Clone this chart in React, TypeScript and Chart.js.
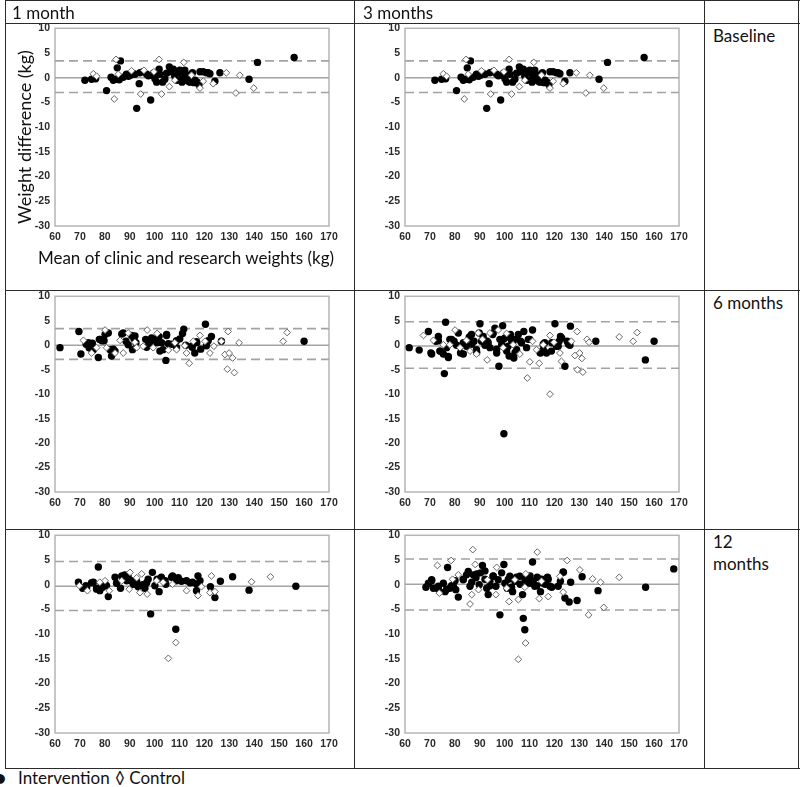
import React, { useEffect, useRef } from "react";
import { Chart, registerables } from "chart.js";

Chart.register(...registerables);

// ---- axes ----
const X_MIN = 60;
const X_MAX = 170;
const X_STEP = 10;
const Y_MIN = -30;
const Y_MAX = 10;
const Y_STEP = 5;

// ---- Baseline (same plot under "1 month" and "3 months") ----
const baseIntX = [72.0, 74.7, 76.3, 80.7, 82.5, 83.4, 84.5, 85.0, 86.3, 85.8, 87.4, 88.7, 89.5, 90.3, 91.2, 92.1, 92.8, 93.8, 94.1, 95.4, 96.8, 97.5, 98.4, 98.8, 99.5, 100.1, 100.8, 101.8, 102.1, 103.2, 104.1, 104.8, 105.9, 106.4, 107.5, 108.1, 109.0, 109.5, 110.1, 110.8, 111.0, 111.5, 112.1, 112.8, 113.5, 113.8, 114.4, 115.2, 115.8, 116.2, 117.1, 117.8, 118.2, 119.5, 120.8, 121.5, 122.2, 124.2, 126.2, 137.9, 141.3, 156.0];
const baseIntY = [-0.5, -0.3, -0.2, -2.6, 0.1, -0.5, -0.3, 2.0, 3.4, -0.4, 0.1, 0.7, 0.3, 0.5, 0.9, 0.7, -6.2, -1.2, 1.0, 1.2, 0.7, 0.4, -4.5, 0.5, 0.9, -0.2, -0.9, 1.7, 0.7, -0.9, -0.3, 0.9, 2.2, 1.2, 1.7, 0.3, -0.5, 1.2, 1.5, 0.7, -0.9, 0.0, 1.5, -0.5, 0.5, -0.8, -0.9, 1.0, -1.0, -0.5, -0.9, -1.4, 1.2, 1.2, 1.0, 1.0, 0.8, -0.7, 1.0, -0.3, 3.1, 4.1];
const baseCtlX = [75.4, 76.7, 83.8, 84.5, 85.4, 90.7, 94.4, 95.7, 99.7, 101.8, 102.8, 105.9, 108.1, 111.7, 114.8, 118.2, 119.5, 123.5, 128.8, 132.6, 134.2, 139.8];
const baseCtlY = [0.8, 0.3, -4.3, 3.7, 0.7, 1.4, -3.3, 1.5, 1.2, 3.7, -3.3, -1.8, -0.5, 3.1, 0.5, -2.1, -0.7, -1.2, 1.0, -3.1, 0.5, -2.1];
const baseLimits = [0, 3.4, -3.0]; // mean, upper, lower

// ---- 6 months, 1 month column ----
const m6aIntX = [62.0, 69.6, 70.4, 72.5, 73.4, 73.7, 74.7, 75.0, 75.4, 77.4, 77.8, 78.8, 79.7, 81.4, 82.1, 82.7, 84.1, 86.8, 88.5, 89.4, 90.7, 91.1, 91.7, 92.5, 96.4, 96.8, 97.4, 98.0, 98.8, 100.0, 101.0, 101.8, 102.1, 102.8, 103.4, 104.5, 104.8, 105.5, 107.0, 108.8, 110.1, 111.2, 111.7, 112.5, 115.1, 116.1, 116.8, 118.5, 120.4, 120.8, 121.5, 122.8, 126.8, 160.0, 74.7, 78.1, 80.1, 83.4, 87.4, 92.1, 98.8, 101.5, 104.8, 108.8, 114.9, 116.9];
const m6aIntY = [-0.5, 2.8, -1.8, 0.2, 0.5, -0.5, -0.1, 0.4, -0.9, -2.5, 1.2, 0.9, 0.9, 2.5, -0.9, -2.2, -1.2, 2.3, 0.8, 0.1, 2.0, -0.9, 1.3, 0.5, 1.2, -0.4, 0.8, 0.3, 1.0, 1.2, 0.5, 1.8, -1.2, 0.5, -0.9, -3.1, 2.0, 0.3, 0.2, -0.5, 1.3, 2.4, 3.3, 0.0, -0.4, -1.6, 0.7, -0.8, 4.3, -0.1, 0.9, 1.8, 0.8, 0.8, -0.8, 1.2, 2.2, -0.8, 2.5, 1.9, 1.5, 1.2, 2.2, 0.9, -0.2, 0.5];
const m6aCtlX = [71.4, 74.7, 76.7, 80.1, 80.7, 84.1, 86.1, 87.4, 89.4, 92.1, 92.8, 95.4, 97.0, 99.4, 101.0, 105.5, 108.1, 108.8, 112.1, 112.8, 113.9, 115.5, 118.2, 120.2, 122.2, 123.8, 126.8, 128.2, 129.5, 129.9, 129.2, 131.3, 132.0, 133.9, 151.6, 153.2];
const m6aCtlY = [1.0, -1.6, -0.5, 3.1, -0.5, -1.6, 1.0, -1.6, 2.5, 0.6, -0.5, -0.2, 3.1, -0.5, 2.4, -1.0, 0.5, -0.9, -0.1, -1.6, -3.7, 0.8, 2.0, 0.8, -1.6, -0.2, 0.8, -1.9, 2.8, -1.6, -4.9, -2.6, -5.6, 0.5, 0.8, 2.6];
const m6aLimits = [0, 3.4, -2.9];

// ---- 6 months, 3 months column ----
const m6bIntX = [61.7, 65.7, 69.4, 70.4, 70.7, 72.4, 73.4, 74.0, 75.4, 76.3, 75.8, 76.7, 77.4, 78.0, 79.7, 80.7, 81.4, 82.3, 83.4, 84.7, 85.8, 86.7, 87.7, 88.7, 89.8, 90.1, 90.7, 91.4, 92.1, 93.0, 94.1, 95.2, 96.1, 96.8, 97.7, 98.1, 98.8, 99.2, 99.7, 100.1, 100.8, 101.4, 101.8, 102.3, 103.2, 103.7, 104.1, 104.8, 105.5, 106.4, 107.7, 108.8, 110.1, 111.2, 114.4, 115.5, 116.1, 116.8, 118.8, 120.2, 120.8, 121.9, 122.4, 124.2, 125.1, 126.2, 126.4, 136.6, 156.5, 160.0, 73.4, 74.1, 77.4, 78.7, 82.1, 83.4, 86.8, 88.8, 91.4, 93.4, 95.4, 96.8, 99.5, 100.8, 101.5, 102.8, 104.2, 106.8, 109.5, 114.2, 115.5, 118.9, 121.5, 122.9, 125.6];
const m6bIntY = [-0.5, -1.0, 2.8, -1.6, -1.8, 0.8, 1.8, -1.2, -1.8, 4.7, -5.8, -0.5, -2.3, 1.2, 0.8, 0.0, 2.5, -1.6, 0.5, -0.2, 1.7, 2.2, 0.8, -0.9, 2.5, 4.4, 0.8, 1.8, 0.0, 0.8, -0.5, 2.2, 3.5, -1.6, -4.3, 1.2, 0.1, 4.0, -18.1, 1.5, -1.2, -0.2, -2.2, 2.2, 0.5, -2.6, 1.2, -0.9, 2.2, 0.8, 2.8, -0.5, 1.2, 3.1, -1.6, -0.9, 0.5, -1.6, -1.2, 4.4, -0.2, 0.8, 1.8, -4.3, 0.8, 0.0, 3.9, 0.8, -3.0, 0.8, 0.9, -1.2, -2.5, 1.2, -0.2, -1.8, 0.2, -1.5, 1.2, 0.5, 2.5, -0.8, 1.2, -0.5, 1.9, 0.9, -1.5, 0.5, 1.2, -1.5, 0.2, 0.5, -0.2, 1.5, 0.2];
const m6bCtlX = [67.4, 71.4, 75.4, 78.0, 80.1, 82.1, 84.7, 86.1, 88.7, 89.4, 91.1, 93.0, 94.1, 97.4, 99.4, 100.8, 103.4, 106.1, 109.1, 110.1, 111.2, 112.8, 113.9, 115.5, 118.2, 118.2, 119.8, 122.2, 122.8, 126.8, 128.2, 129.1, 129.2, 130.1, 131.0, 131.4, 133.1, 133.9, 146.0, 151.6, 153.2];
const m6bCtlY = [2.0, 1.0, 0.1, 0.1, 3.1, -0.5, 1.0, -1.2, -1.8, 2.5, 1.2, -3.0, 2.5, 3.1, -0.5, 2.4, 0.1, -1.8, -6.7, -3.4, 0.8, -0.9, -3.7, 0.1, 2.0, -10.0, 0.6, -1.6, -3.3, 0.8, -2.1, 2.8, -5.0, -1.6, -2.7, -5.5, 1.2, 0.6, 1.7, 0.8, 2.6];
const m6bLimits = [-0.15, 4.8, -4.7];

// ---- 12 months, 1 month column ----
const m12aIntX = [69.4, 71.1, 72.4, 75.4, 76.7, 77.4, 78.0, 79.1, 80.1, 80.7, 81.4, 84.1, 84.7, 86.3, 88.0, 89.4, 90.7, 91.7, 92.8, 93.4, 95.2, 96.1, 97.4, 98.4, 99.1, 100.1, 101.0, 101.8, 102.7, 104.5, 107.2, 108.5, 109.5, 110.8, 112.8, 115.2, 116.8, 117.4, 118.2, 122.4, 124.2, 126.4, 131.3, 137.9, 156.7, 72.7, 74.7, 76.7, 78.7, 86.8, 88.8, 91.4, 94.1, 96.8, 104.2, 106.8, 108.8, 114.2, 116.9];
const m12aIntY = [0.5, -0.7, -0.2, 0.5, -0.7, 3.6, -1.2, -0.5, 0.1, -0.2, -2.4, 1.5, 0.3, -0.7, 2.0, 1.5, 0.8, 0.1, 0.6, -0.4, 0.0, -0.7, 1.1, -5.9, 2.5, -0.2, 1.1, -1.4, 1.5, 0.1, 1.8, -9.0, 1.4, 0.7, 0.8, 0.5, -1.2, 1.8, 0.8, -0.4, -2.6, 0.7, 1.6, -1.1, -0.3, -0.6, 0.4, -0.9, 0.1, 1.8, 0.8, 0.1, -0.2, 0.4, 0.8, 1.5, 0.8, 0.4, 0.1];
const m12aCtlX = [69.8, 73.0, 78.0, 80.1, 81.8, 86.8, 90.1, 89.8, 92.8, 94.8, 94.1, 97.0, 100.8, 103.4, 105.5, 107.2, 108.5, 112.8, 117.4, 118.8, 122.2, 122.8, 124.2, 138.9, 146.5];
const m12aCtlY = [-0.2, -1.2, 0.5, 0.8, -1.2, 0.8, 2.5, -0.9, 1.4, 2.2, -1.6, -1.9, 0.8, 0.5, -14.9, 0.1, -11.7, -1.2, -2.2, -0.4, -1.6, 1.8, -1.4, 0.6, 1.6];
const m12aLimits = [-0.3, 4.7, -5.2];

// ---- 12 months, 3 months column ----
const m12bIntX = [68.4, 69.4, 70.7, 71.4, 73.4, 75.4, 76.1, 77.1, 78.0, 79.4, 80.4, 81.4, 83.4, 84.7, 85.4, 86.1, 87.4, 88.5, 89.8, 90.3, 91.1, 92.1, 92.8, 93.4, 94.1, 95.4, 96.5, 97.4, 98.1, 98.8, 99.7, 100.1, 101.0, 102.1, 103.2, 104.1, 106.1, 107.2, 107.5, 108.1, 108.8, 110.1, 111.2, 112.1, 113.1, 114.4, 115.5, 117.2, 118.2, 121.5, 122.4, 123.5, 124.2, 125.9, 126.5, 129.1, 131.1, 137.5, 156.6, 167.9, 70.7, 73.4, 76.7, 78.7, 80.1, 83.4, 86.8, 88.8, 92.1, 94.1, 95.4, 101.5, 102.8, 104.8, 106.2, 108.2, 110.2, 111.5, 112.9, 114.9, 116.2, 117.5, 118.9, 123.6];
const m12bIntY = [-0.5, 0.3, 1.0, -0.7, -0.3, 0.3, -1.4, 3.5, -0.7, -0.3, -1.0, -2.5, 1.0, 2.0, 2.7, -0.3, 2.0, 1.4, 0.0, 2.4, 3.9, 2.8, -0.7, -2.0, 0.7, 1.7, -0.3, 1.0, -6.1, 2.4, 4.1, 0.3, -0.7, 1.7, -1.4, 0.7, 1.7, -2.0, -6.8, -9.1, 0.7, 0.3, 4.6, -0.3, 1.5, -1.4, 0.3, 1.5, -0.3, -0.3, 0.7, 2.6, -2.7, -3.5, 0.5, -3.2, 1.6, -1.2, -0.5, 3.2, 0.8, -0.9, -0.9, -0.2, 0.8, 1.1, 0.5, 2.2, 1.1, -0.2, 1.8, 1.1, -0.5, 1.5, 0.1, 1.1, 1.8, 0.8, -0.2, 1.1, 0.1, 1.1, -0.5, 2.5];
const m12bCtlX = [73.0, 73.8, 78.5, 79.1, 81.4, 86.1, 86.8, 87.2, 88.2, 89.5, 93.1, 96.8, 96.5, 100.8, 101.8, 104.1, 105.5, 105.5, 108.1, 108.5, 108.4, 113.1, 113.9, 114.8, 117.5, 122.2, 123.5, 125.1, 130.2, 133.7, 135.3, 138.5, 139.8, 146.0];
const m12bCtlY = [3.9, -1.7, 4.9, 1.1, 2.0, -3.9, -2.0, 7.1, 4.1, -1.0, 1.0, 3.5, -2.0, -0.7, -3.4, 1.0, -15.1, -3.0, -0.5, 2.2, -11.8, 6.6, -2.8, 0.7, -2.4, 1.7, -1.5, 4.9, 3.0, -6.1, 1.2, 0.5, -4.6, 1.5];
const m12bLimits = [0.1, 5.2, -5.1];

// ---- text ----
const colHeaders = ["1 month", "3 months"];
const rowLabels = ["Baseline", "6 months", "12\nmonths"];
const yTitle = "Weight difference (kg)";
const xTitle = "Mean of clinic and research weights (kg)";
const legendIntervention = "Intervention";
const legendControl = "◊ Control";

const TEXT_FONT = "Lato, 'Open Sans', sans-serif";
const TICK_FONT = "'Liberation Sans', Arial, sans-serif";

const framePlugin = {
  id: "frame",
  beforeDatasetsDraw(chart: any) {
    const { ctx, chartArea: a } = chart;
    ctx.save();
    ctx.strokeStyle = "#b5b5b5";
    ctx.lineWidth = 1.5;
    ctx.strokeRect(a.left, a.top, a.right - a.left, a.bottom - a.top);
    ctx.restore();
  },
};

type PanelProps = {
  rect: number[];
  ix: number[];
  iy: number[];
  cx: number[];
  cy: number[];
  lim: number[];
};

function Panel({ rect, ix, iy, cx, cy, lim }: PanelProps) {
  const ref = useRef<HTMLCanvasElement>(null);
  const [L, T, R, B] = rect;
  const YW = 45;
  const XH = 22;
  const PT = 10;
  const PR = 14;
  const left = L - YW;
  const top = T - PT;
  const width = R - L + YW + PR;
  const height = B - T + PT + XH;

  useEffect(() => {
    const pts = (xs: number[], ys: number[]) => xs.map((x, i) => ({ x, y: ys[i] }));
    const hline = (v: number) => [
      { x: X_MIN, y: v },
      { x: X_MAX, y: v },
    ];
    const refLine = (v: number, dash: number[]) => ({
      type: "line" as const,
      data: hline(v),
      borderColor: "#a3a3a3",
      borderWidth: 1.6,
      borderDash: dash,
      pointRadius: 0,
      fill: false,
      order: 5,
    });
    const tickFont = { family: TICK_FONT, size: 10.5, weight: "bold" as const };
    const chart = new Chart(ref.current as HTMLCanvasElement, {
      type: "scatter",
      data: {
        datasets: [
          {
            label: "Control",
            data: pts(cx, cy),
            pointStyle: "rectRot",
            pointRadius: 3.4,
            borderColor: "#666666",
            backgroundColor: "#ffffff",
            borderWidth: 1,
            order: 1,
          },
          {
            label: "Intervention",
            data: pts(ix, iy),
            pointStyle: "circle",
            pointRadius: 3.7,
            borderColor: "#000000",
            backgroundColor: "#000000",
            borderWidth: 0,
            order: 2,
          },
          refLine(lim[0], []),
          refLine(lim[1], [9, 5]),
          refLine(lim[2], [9, 5]),
        ] as any,
      },
      options: {
        animation: false,
        responsive: false,
        maintainAspectRatio: false,
        layout: { padding: { left: 0, top: PT, right: PR, bottom: 0 } },
        plugins: { legend: { display: false }, tooltip: { enabled: false } },
        scales: {
          x: {
            type: "linear",
            min: X_MIN,
            max: X_MAX,
            grid: { display: false, drawTicks: false },
            border: { display: false },
            ticks: {
              stepSize: X_STEP,
              autoSkip: false,
              maxRotation: 0,
              padding: 5,
              color: "#2a2a2a",
              font: tickFont,
            },
            afterFit: (s: any) => {
              s.height = XH;
            },
          },
          y: {
            type: "linear",
            min: Y_MIN,
            max: Y_MAX,
            grid: { display: false, drawTicks: false },
            border: { display: false },
            ticks: {
              stepSize: Y_STEP,
              autoSkip: false,
              padding: 5,
              color: "#2a2a2a",
              font: tickFont,
            },
            afterFit: (s: any) => {
              s.width = YW;
            },
          },
        },
      } as any,
      plugins: [framePlugin],
    });
    return () => chart.destroy();
  }, []);

  return (
    <canvas
      ref={ref}
      width={width}
      height={height}
      style={{ position: "absolute", left, top, width, height }}
    />
  );
}

const lineColor = "#2b2b2b";

function HLine({ y, x1, x2 }: { y: number; x1: number; x2: number }) {
  return <div style={{ position: "absolute", left: x1, top: y, width: x2 - x1 + 1, height: 1, background: lineColor }} />;
}
function VLine({ x, y1, y2 }: { x: number; y1: number; y2: number }) {
  return <div style={{ position: "absolute", left: x, top: y1, width: 1, height: y2 - y1 + 1, background: lineColor }} />;
}

const txt: React.CSSProperties = {
  position: "absolute",
  fontFamily: TEXT_FONT,
  fontSize: 17,
  lineHeight: "21px",
  color: "#111",
  whiteSpace: "pre",
};

export default function App() {
  return (
    <div style={{ position: "absolute", left: 0, top: 0, width: 800, height: 787, background: "#fff", overflow: "hidden" }}>
      {/* table grid */}
      <HLine y={0} x1={5} x2={799} />
      <HLine y={23} x1={5} x2={799} />
      <HLine y={290} x1={5} x2={799} />
      <HLine y={529} x1={5} x2={799} />
      <HLine y={768} x1={5} x2={799} />
      <VLine x={5} y1={0} y2={768} />
      <VLine x={354} y1={0} y2={768} />
      <VLine x={704} y1={0} y2={768} />
      <VLine x={798} y1={0} y2={768} />

      {/* charts */}
      <Panel rect={[55, 27, 329, 226]} ix={baseIntX} iy={baseIntY} cx={baseCtlX} cy={baseCtlY} lim={baseLimits} />
      <Panel rect={[405, 27, 679, 226]} ix={baseIntX} iy={baseIntY} cx={baseCtlX} cy={baseCtlY} lim={baseLimits} />
      <Panel rect={[55, 295, 329, 492]} ix={m6aIntX} iy={m6aIntY} cx={m6aCtlX} cy={m6aCtlY} lim={m6aLimits} />
      <Panel rect={[405, 295, 679, 492]} ix={m6bIntX} iy={m6bIntY} cx={m6bCtlX} cy={m6bCtlY} lim={m6bLimits} />
      <Panel rect={[55, 534, 329, 733]} ix={m12aIntX} iy={m12aIntY} cx={m12aCtlX} cy={m12aCtlY} lim={m12aLimits} />
      <Panel rect={[405, 534, 679, 733]} ix={m12bIntX} iy={m12bIntY} cx={m12bCtlX} cy={m12bCtlY} lim={m12bLimits} />

      {/* headers */}
      <div style={{ ...txt, left: 12, top: 2 }}>{colHeaders[0]}</div>
      <div style={{ ...txt, left: 363, top: 2 }}>{colHeaders[1]}</div>
      <div style={{ ...txt, left: 713, top: 25 }}>{rowLabels[0]}</div>
      <div style={{ ...txt, left: 713, top: 292 }}>{rowLabels[1]}</div>
      <div style={{ ...txt, left: 713, top: 531, lineHeight: "22px" }}>{rowLabels[2]}</div>

      {/* axis titles */}
      <div
        style={{
          ...txt,
          fontSize: 18,
          left: 24 - 100,
          top: 137 - 11,
          width: 200,
          height: 22,
          lineHeight: "22px",
          textAlign: "center",
          transform: "rotate(-90deg)",
          zIndex: 2,
        }}
      >
        {yTitle}
      </div>
      <div style={{ ...txt, fontSize: 17, left: 11, top: 247, width: 350, textAlign: "center" }}>{xTitle}</div>

      {/* legend */}
      <div style={{ ...txt, left: -6, top: 765, fontSize: 20, lineHeight: "24px" }}>●</div>
      <div style={{ ...txt, left: 18, top: 767 }}>{legendIntervention}</div>
      <div style={{ ...txt, left: 115, top: 767 }}>{legendControl}</div>
    </div>
  );
}
